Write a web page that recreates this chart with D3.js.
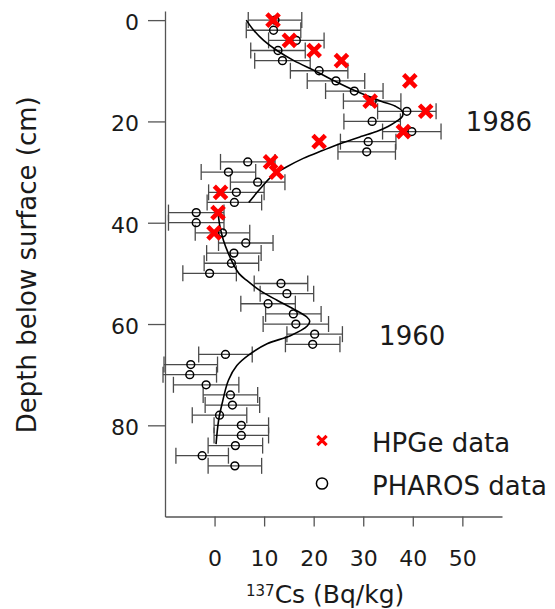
<!DOCTYPE html>
<html>
<head>
<meta charset="utf-8">
<script src="https://cdn.jsdelivr.net/npm/d3@7"></script>
<style>
  html, body { margin: 0; padding: 0; background: #fff; }
  svg { display: block; font-family: "DejaVu Sans", sans-serif; }
</style>
</head>
<body>
<svg id="chart" width="555" height="609"></svg>
<script>
// ---------- data ----------
const pharosDepth = [0,2,4,6,8,10,12,14,16,18,20,22,24,26,28,30,32,34,36,38,40,42,44,46,48,50,52,54,56,58,60,62,64,66,68,70,72,74,76,78,80,82,84,86,88];
const pharosValue = [12.2,11.9,16.5,12.8,13.7,21.1,24.5,28.2,31.8,38.8,31.8,39.8,31.0,30.7,6.7,2.8,8.7,4.4,4.0,-3.7,-3.7,1.6,6.3,3.9,3.4,-1.0,13.4,14.6,10.8,15.9,16.4,20.2,19.8,2.2,-4.8,-5.0,-1.7,3.2,3.6,1.0,5.4,5.4,4.2,-2.5,4.1];
const pharosError = [5.4,5.5,5.6,5.5,5.6,5.8,5.8,5.8,5.8,5.9,5.7,5.9,5.6,5.8,5.5,5.5,5.5,5.6,5.5,5.6,5.6,5.5,5.5,5.5,5.5,5.4,5.4,5.4,5.5,5.6,6.6,5.6,5.5,5.4,5.4,5.4,6.6,5.5,5.5,5.5,5.5,5.5,5.5,5.3,5.4];

const hpgeDepth = [0,4,6,8,12,16,18,22,24,28,30,34,38,42];
const hpgeValue = [11.8,15.1,20.1,25.6,39.4,31.4,42.6,38.1,21.1,11.3,12.5,1.2,0.7,-0.1];

// fitted profile, 1986 peak
const fit1Depth = [0,2,4,6,8,10,12,14,16,17,18,19,20,21,22,23,24.4,25.7,27.3,29,30.6,33.3,36];
const fit1Value = [6.4,7.9,9.9,12.6,16.0,20.2,24.2,28.5,33.6,36.5,37.9,37.9,36.7,35.0,32.7,29.5,25.3,21.9,17.9,14.5,11.8,9.2,6.9];
// fitted profile, 1960 peak
const fit2Depth = [38,40.8,43.5,46.1,48.4,50,51.4,53.4,55.3,57,58.6,59.4,60.4,62.3,63.9,65.9,68.2,71.1,75.8,79.1,83.7];
const fit2Value = [0.7,1.1,1.8,2.8,3.9,4.9,6.5,9.2,12.6,15.9,18.6,19.2,18.7,15.3,10.6,7.2,4.5,2.8,1.5,0.8,0.3];

const xTicks = [0,10,20,30,40,50];
const yTicks = [0,20,40,60,80];
const legendLabels = ["HPGe data", "PHAROS data"];
const peakLabels = ["1986", "1960"];
const peakAt = [[50.7, 21.9], [33.2, 64.2]]; // value, depth anchors for annotations

// ---------- scales ----------
const svg = d3.select("#chart");
const x = d3.scaleLinear().domain([-10, 58]).range([165, 502]);
const y = d3.scaleLinear().domain([-1.8, 98]).range([11, 516.5]);

const axisColor = "#555";
const textColor = "#1a1a1a";

// ---------- axes ----------
const gx = svg.append("g").attr("transform", `translate(0,${y.range()[1]})`)
  .call(d3.axisBottom(x).tickValues(xTicks).tickSize(10).tickSizeOuter(0).tickPadding(24));
const gy = svg.append("g").attr("transform", `translate(${x.range()[0]},0)`)
  .call(d3.axisLeft(y).tickValues(yTicks).tickSize(17).tickSizeOuter(0).tickPadding(9));

[gx, gy].forEach(g => {
  g.select(".domain").attr("stroke", axisColor).attr("stroke-width", 1.3);
  g.selectAll(".tick line").attr("stroke", axisColor).attr("stroke-width", 1.3);
  g.selectAll(".tick text").attr("fill", textColor).attr("font-size", 22)
    .attr("font-family", "DejaVu Sans, sans-serif");
});
gy.selectAll(".tick text").attr("dy", "0.43em");

// axis titles
svg.append("text")
  .attr("transform", `translate(36,${(y.range()[0] + y.range()[1]) / 2 + 1}) rotate(-90)`)
  .attr("text-anchor", "middle").attr("font-size", 26).attr("fill", textColor)
  .text("Depth below surface (cm)");

const xt = svg.append("text").attr("x", 246).attr("y", 603)
  .attr("font-size", 25).attr("fill", textColor);
xt.append("tspan").attr("font-size", 15).attr("dy", -7).text("137");
xt.append("tspan").attr("dy", 7).text("Cs (Bq/kg)");

// ---------- error bars ----------
const pharos = pharosDepth.map((d, i) => ({ d, v: pharosValue[i], e: pharosError[i] }));
const cap = 8;
const eb = svg.append("g").attr("stroke", "#4a4a4a").attr("stroke-width", 1.3).attr("fill", "none");
pharos.forEach(p => {
  const yy = y(p.d), x0 = x(p.v - p.e), x1 = x(p.v + p.e);
  eb.append("line").attr("x1", x0).attr("x2", x1).attr("y1", yy).attr("y2", yy);
  eb.append("line").attr("x1", x0).attr("x2", x0).attr("y1", yy - cap).attr("y2", yy + cap);
  eb.append("line").attr("x1", x1).attr("x2", x1).attr("y1", yy - cap).attr("y2", yy + cap);
});

// ---------- fit curves ----------
const line = d3.line().x(p => x(p[1])).y(p => y(p[0])).curve(d3.curveCatmullRom.alpha(0.5));
[[fit1Depth, fit1Value], [fit2Depth, fit2Value]].forEach(([ds, vs]) => {
  svg.append("path").datum(ds.map((d, i) => [d, vs[i]]))
    .attr("d", line).attr("fill", "none").attr("stroke", "#000").attr("stroke-width", 1.6);
});

// ---------- PHAROS circles ----------
svg.append("g").selectAll("circle").data(pharos).join("circle")
  .attr("cx", p => x(p.v)).attr("cy", p => y(p.d)).attr("r", 3.9)
  .attr("fill", "none").attr("stroke", "#000").attr("stroke-width", 1.5);

// ---------- HPGe crosses ----------
const xs = 6.2;
const crossPath = s => `M${-s},${-s}L${s},${s}M${-s},${s}L${s},${-s}`;
svg.append("g").selectAll("path").data(hpgeDepth.map((d, i) => ({ d, v: hpgeValue[i] }))).join("path")
  .attr("transform", p => `translate(${x(p.v)},${y(p.d)})`)
  .attr("d", crossPath(xs)).attr("stroke", "#ff0000").attr("stroke-width", 4.6).attr("fill", "none");

// ---------- annotations ----------
peakLabels.forEach((t, i) => {
  svg.append("text").attr("x", x(peakAt[i][0])).attr("y", y(peakAt[i][1]))
    .attr("font-size", 26).attr("fill", textColor).text(t);
});

// ---------- legend ----------
const lg = svg.append("g").attr("transform", "translate(322,0)");
lg.append("path").attr("transform", "translate(0,440.5)").attr("d", crossPath(4.6))
  .attr("stroke", "#ff0000").attr("stroke-width", 3.2).attr("fill", "none");
lg.append("circle").attr("cx", 0).attr("cy", 483.5).attr("r", 5.6)
  .attr("fill", "none").attr("stroke", "#000").attr("stroke-width", 1.5);
lg.append("text").attr("x", 50).attr("y", 451.5).attr("font-size", 26).attr("fill", textColor).text(legendLabels[0]);
lg.append("text").attr("x", 50).attr("y", 495).attr("font-size", 26).attr("fill", textColor).text(legendLabels[1]);
</script>
</body>
</html>
